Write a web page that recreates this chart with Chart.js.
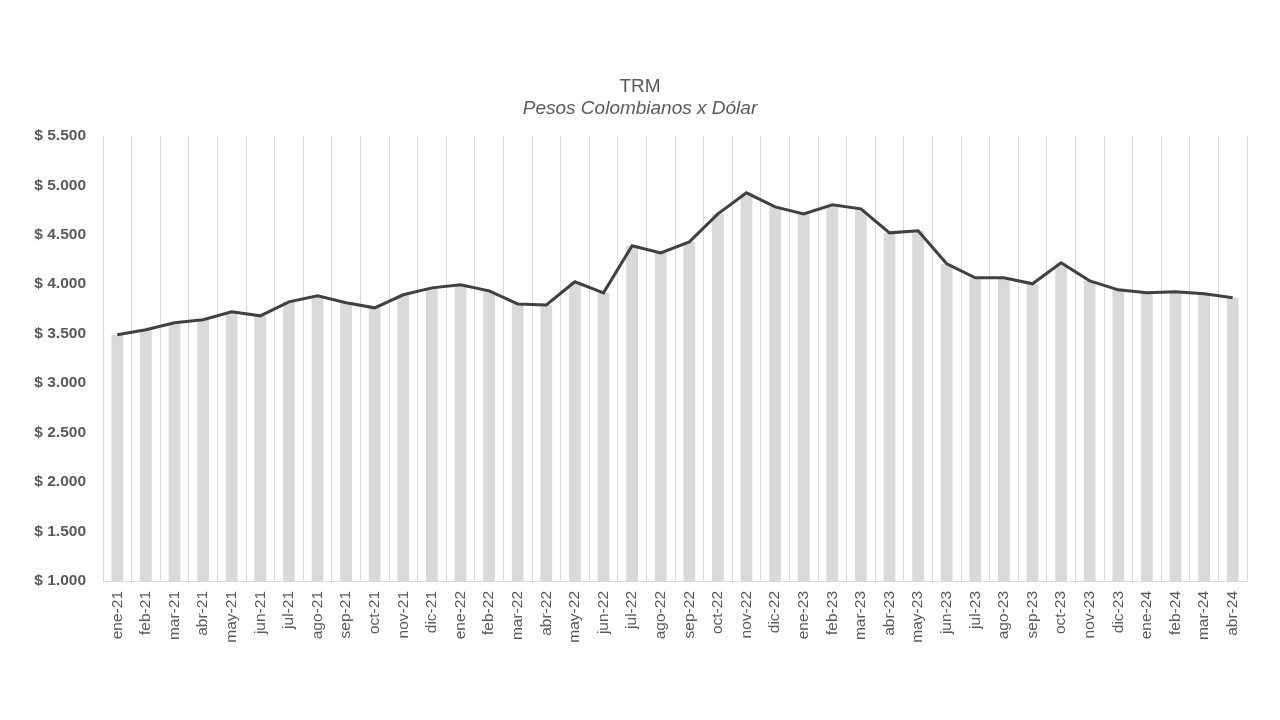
<!DOCTYPE html>
<html lang="es">
<head>
    <meta charset="UTF-8">
    <title>TRM</title>
    <script src="https://cdn.jsdelivr.net/npm/chart.js@4.4.1/dist/chart.umd.min.js"></script>
    <style>
        html, body { margin: 0; padding: 0; background: #fff; }
    </style>
</head>
<body>

<canvas id="trm-chart" width="1280" height="720"></canvas>

<script>
    const months = ['ene-21', 'feb-21', 'mar-21', 'abr-21', 'may-21', 'jun-21', 'jul-21', 'ago-21', 'sep-21', 'oct-21',
        'nov-21', 'dic-21', 'ene-22', 'feb-22', 'mar-22', 'abr-22', 'may-22', 'jun-22', 'jul-22', 'ago-22',
        'sep-22', 'oct-22', 'nov-22', 'dic-22', 'ene-23', 'feb-23', 'mar-23', 'abr-23', 'may-23', 'jun-23',
        'jul-23', 'ago-23', 'sep-23', 'oct-23', 'nov-23', 'dic-23', 'ene-24', 'feb-24', 'mar-24', 'abr-24'];

    const trm = [3490, 3540, 3610, 3640, 3721, 3680, 3822, 3882, 3812, 3761,
        3893, 3963, 3994, 3933, 3800, 3790, 4024, 3913, 4388, 4317,
        4428, 4711, 4924, 4782, 4711, 4802, 4762, 4519, 4540, 4206,
        4064, 4064, 4004, 4216, 4034, 3943, 3913, 3923, 3903, 3862];

    const yMin = 1000;
    const yMax = 5500;
    const yStep = 500;

    const fontFamily = "'Liberation Sans', Arial, sans-serif";
    const textColor = '#595959';

    function pesos(v) {
        return '$ ' + v.toLocaleString('de-DE');
    }

    new Chart(document.getElementById('trm-chart'), {
        type: 'bar',
        data: {
            labels: months,
            datasets: [
                {
                    type: 'line',
                    label: 'TRM',
                    data: trm,
                    borderColor: '#404040',
                    borderWidth: 3,
                    pointRadius: 0,
                    tension: 0,
                    order: 0
                },
                {
                    type: 'bar',
                    label: 'TRM barras',
                    data: trm,
                    backgroundColor: '#d9d9d9',
                    barPercentage: 0.41,
                    categoryPercentage: 1,
                    order: 1
                }
            ]
        },
        options: {
            responsive: false,
            animation: false,
            layout: {
                padding: {top: 76, right: 33, bottom: 0, left: 33}
            },
            plugins: {
                legend: {display: false},
                tooltip: {enabled: false},
                title: {
                    display: true,
                    text: 'TRM',
                    color: textColor,
                    font: {family: fontFamily, size: 19, weight: 'normal', lineHeight: 1.1},
                    padding: {top: 0, bottom: 0}
                },
                subtitle: {
                    display: true,
                    text: 'Pesos Colombianos x Dólar',
                    color: textColor,
                    font: {family: fontFamily, size: 19, style: 'italic', lineHeight: 1.1},
                    padding: {top: 1, bottom: 17}
                }
            },
            scales: {
                x: {
                    grid: {
                        color: '#d9d9d9',
                        drawTicks: false,
                        offset: true
                    },
                    border: {color: '#d9d9d9'},
                    ticks: {
                        color: textColor,
                        font: {family: fontFamily, size: 15.5},
                        minRotation: 90,
                        maxRotation: 90,
                        padding: 10,
                        autoSkip: false
                    },
                    afterFit: scale => { scale.height = 139; }
                },
                y: {
                    min: yMin,
                    max: yMax,
                    grid: {display: false, drawTicks: false},
                    border: {display: false},
                    ticks: {
                        stepSize: yStep,
                        color: textColor,
                        font: {family: fontFamily, size: 15.5, weight: 'bold'},
                        padding: 17,
                        callback: v => pesos(v)
                    },
                    afterFit: scale => { scale.width = 70; }
                }
            }
        }
    });
</script>

</body>
</html>
